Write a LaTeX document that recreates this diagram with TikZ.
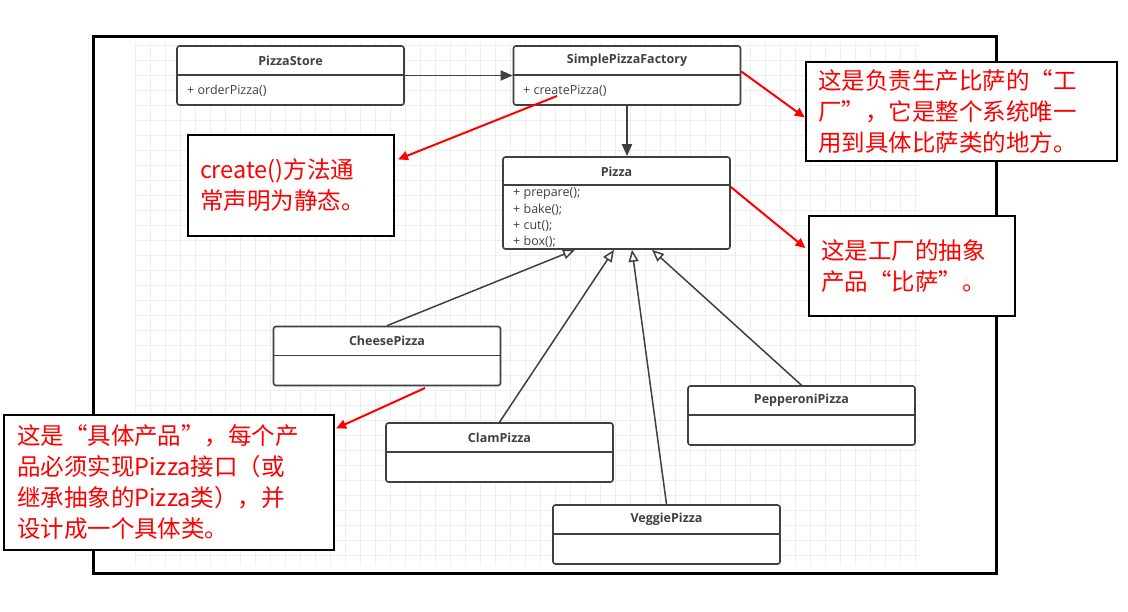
\documentclass[tikz,border=0pt]{standalone}
\usepackage{fontspec}
\setmainfont{Open Sans}
\newfontfamily\cjk{Noto Sans CJK SC}
\usepackage{xcolor}
\usetikzlibrary{arrows.meta,positioning}

\definecolor{umlgray}{RGB}{64,64,64}
\definecolor{gridgray}{RGB}{238,238,238}

\tikzset{
  classbox/.style={draw=umlgray, line width=1.6pt, rounded corners=2.5pt, fill=white,
    minimum width=227pt, minimum height=59pt, inner sep=0pt},
  classname/.style={font=\fontsize{12.5}{14}\selectfont\bfseries, text=umlgray},
  method/.style={font=\fontsize{12.5}{14}\selectfont, text=umlgray, anchor=west, inner sep=0pt},
  notebox/.style={draw=black, line width=2.4pt, fill=white, inner ysep=0pt,
    font=\cjk\fontsize{23.5}{31}\selectfont, text=red, align=left},
  tonote/.style={red, line width=2pt, -{Triangle[length=10pt,width=9pt]}},
  assoc/.style={umlgray, line width=1.8pt, -{Triangle[length=12pt,width=10pt]}},
  inherit/.style={umlgray, line width=1.5pt, -{Triangle[open,length=12pt,width=10pt,fill=white]}},
}

\begin{document}
\begin{tikzpicture}[x=1pt,y=-1pt]
    % Page
    \fill[white] (0,0) rectangle (1128,612);
    \foreach \gx in {135,150,...,915}
        \draw[gridgray, line width=0.6pt] (\gx,42) -- (\gx,565);
    \foreach \gy in {45,60,...,560}
        \draw[gridgray, line width=0.6pt] (135,\gy) -- (920,\gy);
    \draw[line width=3pt] (93,37) rectangle (996,573);

    % Classes
    \foreach \name/\x/\y/\title in {store/290.5/75.5/PizzaStore, factory/627/75.5/SimplePizzaFactory,
        cheese/387/356/CheesePizza, clam/499.5/452.5/ClamPizza,
        veggie/666.5/534.5/VeggiePizza, pepperoni/801.5/415.5/PepperoniPizza} {
        \node[classbox] (\name) at (\x,\y) {};
        \draw[umlgray, line width=1.6pt] ([yshift=-30pt]\name.north west) -- ([yshift=-30pt]\name.north east);
        \node[classname] at ([yshift=-15.5pt]\name.north) {\title};
    }
    \node[method] at (187,91) {+ orderPizza()};
    \node[method] at (523,91) {+ createPizza()};

    % Product interface
    \node[classbox, minimum height=92pt] (pizza) at (616.5,203) {};
    \draw[umlgray, line width=1.6pt] ([yshift=-29pt]pizza.north west) -- ([yshift=-29pt]pizza.north east);
    \node[classname] at ([yshift=-15.5pt]pizza.north) {Pizza};
    \foreach \m [count=\i] in {prepare, bake, cut, box}
        \node[method] at (513,178+16*\i) {+ \m();};

    % Connectors
    \draw[assoc] (store.east) -- (factory.west);
    \draw[assoc] (factory.south) -- (factory.south |- pizza.north);
    \foreach \sub/\dx in {cheese/-41.5, clam/-2.5, veggie/15.5, pepperoni/35.5}
        \draw[inherit] (\sub.north) -- ([xshift=\dx pt]pizza.south);

    % Notes
    \node[notebox, text width=287pt, inner xsep=12pt, minimum height=99pt] (noteFactory) at (961.5,111.5)
        {这是负责生产比萨的“工\\厂”，它是整个系统唯一\\用到具体比萨类的地方。};
    \node[notebox, text width=182pt, inner xsep=12pt, minimum height=101pt] (noteCreate) at (291,185.5)
        {create()方法通\\常声明为静态。};
    \node[notebox, text width=182pt, inner xsep=12pt, minimum height=100pt] (noteProduct) at (912,266)
        {这是工厂的抽象\\产品“比萨”。};
    \node[notebox, text width=304pt, inner xsep=13pt, minimum height=135pt] (noteConcrete) at (169,482.5)
        {这是“具体产品”，每个产\\品必须实现Pizza接口（或\\继承抽象的Pizza类），并\\设计成一个具体类。};

    \coordinate (createtail) at (557,96);
    \coordinate (cheesetail) at (425,388);
    \draw[tonote] ([yshift=4pt]factory.east) -- ([yshift=-6pt]noteFactory.west);
    \draw[tonote, shorten >=3pt] (createtail) -- ([yshift=25pt]noteCreate.east);
    \draw[tonote, shorten >=3pt] ([yshift=16pt]pizza.east) -- ([yshift=16pt]noteProduct.west);
    \draw[tonote, shorten >=1pt] (cheesetail) -- ([yshift=-15pt]noteConcrete.north east);
\end{tikzpicture}
\end{document}
